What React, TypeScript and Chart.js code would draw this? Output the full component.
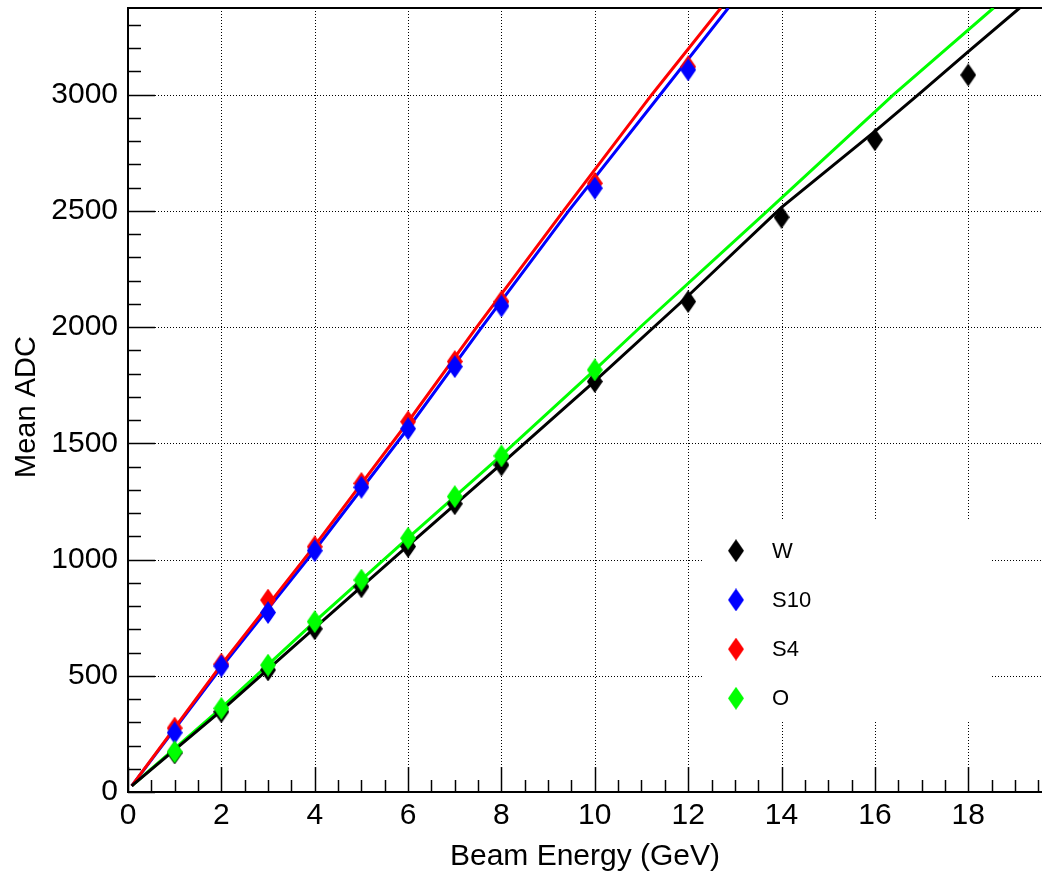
import React, { useEffect, useRef } from 'react';
import { Chart, registerables } from 'chart.js';

Chart.register(...registerables);

// ---------- data ----------
const xTicks = [0, 2, 4, 6, 8, 10, 12, 14, 16, 18];
const yTicks = [0, 500, 1000, 1500, 2000, 2500, 3000];
const xMin = 0;
const xMax = 19.58;
const yMin = 0;
const yMax = 3373;

const seriesLabels = ['W', 'S10', 'S4', 'O'];
const seriesColors = ['#000000', '#0000ff', '#ff0000', '#00ff00'];

// measured points
const energyW = [1, 2, 3, 4, 5, 6, 7, 8, 10, 12, 14, 16, 18];
const adcW = [168, 345, 525, 702, 883, 1056, 1240, 1407, 1766, 2110, 2473, 2806, 3085];
const energyS10 = [1, 2, 3, 4, 5, 6, 7, 8, 10, 12];
const adcS10 = [255, 542, 772, 1038, 1311, 1563, 1830, 2091, 2598, 3107];
const energyS4 = [1, 2, 3, 4, 5, 6, 7, 8, 10, 12];
const adcS4 = [275, 550, 826, 1055, 1328, 1593, 1852, 2110, 2619, 3120];
const energyO = [1, 2, 3, 4, 5, 6, 7, 8, 10];
const adcO = [173, 360, 546, 733, 912, 1092, 1271, 1446, 1816];

// fit curves
const fitXW = [0.08, 2, 4, 6, 8, 10, 12, 14, 16, 17, 18, 19.1];
const fitYW = [26, 350, 706, 1060, 1412, 1768, 2135, 2515, 2842, 3012, 3185, 3373];
const fitXS10 = [0.08, 2, 4, 6, 7.58, 9.44, 11.4, 12.86];
const fitYS10 = [26, 536, 1040, 1565, 2000, 2500, 3000, 3373];
const fitXS4 = [0.08, 2, 4, 6, 7.47, 9.33, 11.22, 12.7];
const fitYS4 = [26, 548, 1060, 1593, 2000, 2500, 3000, 3373];
const fitXO = [0.08, 2, 4, 6, 8, 10, 11, 13.7, 16.4, 18.54];
const fitYO = [26, 362, 733, 1093, 1448, 1816, 2005, 2500, 3000, 3373];

const xTitle = 'Beam Energy (GeV)';
const yTitle = 'Mean ADC';

const FONT = '"Liberation Sans", Arial, Helvetica, sans-serif';

const zip = (xs: number[], ys: number[]) => xs.map((x, i) => ({ x, y: ys[i] }));

function makeDiamond(color: string, w = 16, h = 23): HTMLCanvasElement {
  const c = document.createElement('canvas');
  c.width = w;
  c.height = h;
  const g = c.getContext('2d')!;
  g.fillStyle = color;
  g.beginPath();
  g.moveTo(w / 2, 0);
  g.lineTo(w, h / 2);
  g.lineTo(w / 2, h);
  g.lineTo(0, h / 2);
  g.closePath();
  g.fill();
  return c;
}

export default function App() {
  const ref = useRef<HTMLCanvasElement | null>(null);

  useEffect(() => {
    if (!ref.current) return;
    const markers = seriesColors.map((c) => makeDiamond(c));

    const framePlugin = {
      id: 'rootFrame',
      beforeDatasetsDraw(chart: any) {
        const { ctx, chartArea, scales } = chart;
        const { left, right, top, bottom } = chartArea;
        const xs = scales.x;
        const ys = scales.y;
        ctx.save();
        // dotted grid
        ctx.strokeStyle = '#000';
        ctx.lineWidth = 1;
        ctx.setLineDash([1, 2]);
        xTicks.forEach((v) => {
          if (v === 0) return;
          const px = Math.round(xs.getPixelForValue(v)) + 0.5;
          ctx.beginPath();
          ctx.moveTo(px, bottom);
          ctx.lineTo(px, top);
          ctx.stroke();
        });
        yTicks.forEach((v) => {
          if (v === 0) return;
          const py = Math.round(ys.getPixelForValue(v)) + 0.5;
          ctx.beginPath();
          ctx.moveTo(left, py);
          ctx.lineTo(right, py);
          ctx.stroke();
        });
        ctx.setLineDash([]);
        // legend box (white, no border)
        ctx.fillStyle = '#fff';
        ctx.fillRect(703, 520, 287, 202);
        // ticks
        ctx.lineWidth = 1.5;
        const xStepMinor = 0.5;
        for (let v = xMin; v <= xMax + 1e-9; v += xStepMinor) {
          const px = Math.round(xs.getPixelForValue(v)) + 0.5;
          const major = Math.abs(v / 2 - Math.round(v / 2)) < 1e-6;
          ctx.beginPath();
          ctx.moveTo(px, bottom);
          ctx.lineTo(px, bottom - (major ? 25 : 12));
          ctx.stroke();
        }
        for (let v = yMin; v <= yMax + 1e-9; v += 100) {
          const py = Math.round(ys.getPixelForValue(v)) + 0.5;
          const major = v % 500 === 0;
          ctx.beginPath();
          ctx.moveTo(left, py);
          ctx.lineTo(left + (major ? 27 : 13), py);
          ctx.stroke();
        }
        // frame
        ctx.lineWidth = 2;
        ctx.beginPath();
        ctx.moveTo(right, top);
        ctx.lineTo(left, top);
        ctx.lineTo(left, bottom);
        ctx.lineTo(right, bottom);
        ctx.stroke();
        ctx.restore();
      },
      afterDraw(chart: any) {
        const { ctx, chartArea } = chart;
        ctx.save();
        // legend entries
        const rowTop = 550.7;
        const rowStep = 49.2;
        seriesLabels.forEach((lab, i) => {
          const cy = rowTop + i * rowStep;
          const m = markers[i];
          ctx.drawImage(m, 736 - m.width / 2, cy - m.height / 2);
          ctx.fillStyle = '#000';
          ctx.font = `22px ${FONT}`;
          ctx.textAlign = 'left';
          ctx.textBaseline = 'middle';
          ctx.fillText(lab, 772, cy + 1);
        });
        // axis titles
        ctx.fillStyle = '#000';
        ctx.font = `30px ${FONT}`;
        ctx.textAlign = 'center';
        ctx.textBaseline = 'alphabetic';
        ctx.fillText(xTitle, (chartArea.left + chartArea.right) / 2, 865);
        ctx.font = `29px ${FONT}`;
        ctx.translate(35, (chartArea.top + chartArea.bottom) / 2 + 7);
        ctx.rotate(-Math.PI / 2);
        ctx.fillText(yTitle, 0, 0);
        ctx.restore();
      },
    };

    const fitDs = (xs: number[], ys: number[], color: string) => ({
      type: 'line' as const,
      data: zip(xs, ys),
      borderColor: color,
      backgroundColor: color,
      borderWidth: 3,
      pointRadius: 0,
      showLine: true,
      fill: false,
      tension: 0,
      order: 20,
    });
    const ptDs = (label: string, xs: number[], ys: number[], idx: number, order: number) => ({
      type: 'scatter' as const,
      label,
      data: zip(xs, ys),
      pointStyle: markers[idx],
      pointRadius: 8,
      borderColor: seriesColors[idx],
      backgroundColor: seriesColors[idx],
      showLine: false,
      order,
    });

    const chart = new Chart(ref.current, {
      type: 'scatter',
      data: {
        datasets: [
          fitDs(fitXW, fitYW, seriesColors[0]),
          fitDs(fitXS4, fitYS4, seriesColors[2]),
          fitDs(fitXS10, fitYS10, seriesColors[1]),
          fitDs(fitXO, fitYO, seriesColors[3]),
          ptDs(seriesLabels[0], energyW, adcW, 0, 4),
          ptDs(seriesLabels[2], energyS4, adcS4, 2, 3),
          ptDs(seriesLabels[1], energyS10, adcS10, 1, 2),
          ptDs(seriesLabels[3], energyO, adcO, 3, 1),
        ] as any,
      },
      options: {
        animation: false,
        responsive: false,
        devicePixelRatio: 1,
        layout: { autoPadding: false, padding: { top: 8, right: 0, left: 0, bottom: 0 } },
        plugins: { legend: { display: false }, tooltip: { enabled: false } },
        events: [],
        scales: {
          x: {
            type: 'linear',
            min: xMin,
            max: xMax,
            grid: { display: false, drawTicks: false },
            border: { display: false },
            afterBuildTicks: (axis: any) => {
              axis.ticks = xTicks.map((v) => ({ value: v }));
            },
            afterFit: (axis: any) => {
              axis.height = 85;
              axis.paddingLeft = 0;
              axis.paddingRight = 0;
            },
            ticks: {
              autoSkip: false,
              maxRotation: 0,
              padding: 6,
              color: '#000',
              font: { family: FONT, size: 30 },
              callback: (v: any) => String(v),
            },
          },
          y: {
            type: 'linear',
            min: yMin,
            max: yMax,
            grid: { display: false, drawTicks: false },
            border: { display: false },
            afterBuildTicks: (axis: any) => {
              axis.ticks = yTicks.map((v) => ({ value: v }));
            },
            afterFit: (axis: any) => {
              axis.width = 128;
              axis.paddingTop = 0;
              axis.paddingBottom = 0;
            },
            ticks: {
              autoSkip: false,
              padding: 10,
              color: '#000',
              font: { family: FONT, size: 30 },
              callback: (v: any) => String(v),
            },
          },
        },
      } as any,
      plugins: [framePlugin],
    });
    return () => chart.destroy();
  }, []);

  return (
    <div style={{ position: 'absolute', left: 0, top: 0, width: 1042, height: 877, background: '#fff' }}>
      <canvas ref={ref} width={1042} height={877} style={{ display: 'block' }} />
    </div>
  );
}
